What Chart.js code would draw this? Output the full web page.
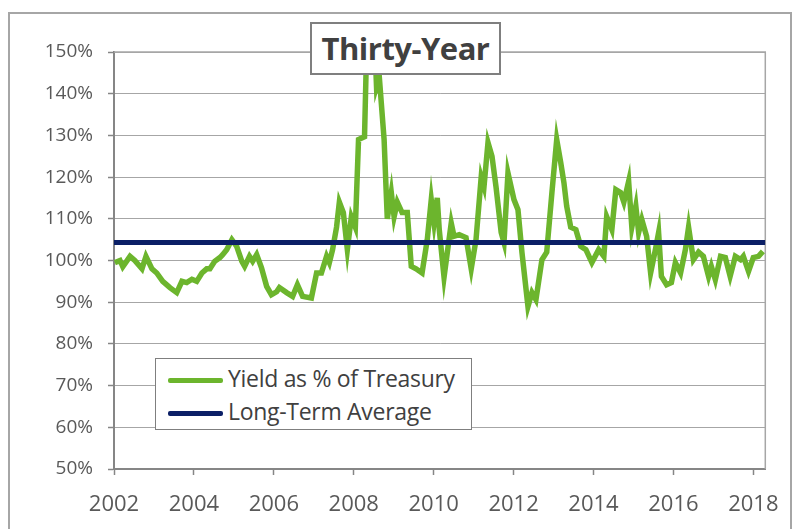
<!DOCTYPE html>
<html>
<head>
<meta charset="utf-8">
<script src="https://cdn.jsdelivr.net/npm/chart.js@4.4.0/dist/chart.umd.min.js"></script>
<style>
    body { margin: 0; background: #fff; }
    .wrap { position: relative; width: 796px; height: 529px; overflow: hidden; }
    .frame { position: absolute; left: 8px; top: 12px; width: 780px; height: 540px; border: 2px solid #a6a6a6; }
    canvas { position: absolute; left: 0; top: 0; }
    .titulo {
        position: absolute; left: 310px; top: 22px; width: 187px; height: 49px;
        border: 2px solid #7f7f7f; background: #fff;
        font: bold 31px "Open Sans", sans-serif; color: #404040;
        text-align: center; line-height: 49px; letter-spacing: -0.5px;
    }
    .legenda {
        position: absolute; left: 155px; top: 358px; width: 315px; height: 70px;
        border: 1.5px solid #7f7f7f; background: #fff;
        font: 23px "Open Sans", sans-serif; color: #404040;
    }
    .item { position: absolute; left: 12px; height: 28px; line-height: 28px; white-space: nowrap; letter-spacing: -0.3px; }
    .item span { display: inline-block; width: 55px; height: 5px; vertical-align: middle; margin-right: 5px; border-radius: 2px; }
</style>
</head>
<body>
<div class="wrap">
    <div class="frame"></div>
    <canvas id="myChart" width="796" height="529"></canvas>
    <div class="titulo">Thirty-Year</div>
    <div class="legenda">
        <div class="item" style="top: 5px"><span style="background:#6cb52d"></span>Yield as % of Treasury</div>
        <div class="item" style="top: 38px"><span style="background:#0b1f66"></span>Long-Term Average</div>
    </div>
</div>
<script>
// data (decimal year, % of treasury)
var years = [2002.02, 2002.15, 2002.22, 2002.40, 2002.52, 2002.70, 2002.80, 2002.95, 2003.07, 2003.22,
    2003.40, 2003.57, 2003.70, 2003.82, 2003.95, 2004.07, 2004.20, 2004.32, 2004.40, 2004.52,
    2004.65, 2004.72, 2004.82, 2004.95, 2005.07, 2005.20, 2005.27, 2005.39, 2005.47, 2005.57,
    2005.69, 2005.82, 2005.94, 2006.07, 2006.14, 2006.32, 2006.47, 2006.59, 2006.72, 2006.94,
    2007.07, 2007.19, 2007.32, 2007.39, 2007.47, 2007.57, 2007.64, 2007.74, 2007.84, 2007.94,
    2008.04, 2008.12, 2008.27, 2008.32, 2008.42, 2008.52, 2008.57, 2008.64, 2008.76, 2008.81,
    2008.84, 2008.94, 2009.01, 2009.09, 2009.21, 2009.34, 2009.44, 2009.56, 2009.71, 2009.84,
    2009.94, 2010.01, 2010.09, 2010.14, 2010.26, 2010.44, 2010.51, 2010.64, 2010.81, 2010.94,
    2011.06, 2011.19, 2011.26, 2011.36, 2011.46, 2011.56, 2011.69, 2011.76, 2011.86, 2012.01,
    2012.11, 2012.21, 2012.36, 2012.46, 2012.56, 2012.71, 2012.83, 2012.96, 2013.08, 2013.18,
    2013.26, 2013.33, 2013.43, 2013.56, 2013.68, 2013.81, 2013.96, 2014.13, 2014.26, 2014.33,
    2014.46, 2014.56, 2014.68, 2014.76, 2014.88, 2014.96, 2015.06, 2015.13, 2015.21, 2015.33,
    2015.43, 2015.55, 2015.63, 2015.70, 2015.83, 2015.95, 2016.05, 2016.18, 2016.30, 2016.38,
    2016.50, 2016.63, 2016.75, 2016.88, 2016.95, 2017.05, 2017.18, 2017.30, 2017.42, 2017.55,
    2017.68, 2017.75, 2017.88, 2018.00, 2018.13, 2018.24];
var yieldPct = [99.5, 100, 98.5, 101, 100, 98, 101, 98, 97, 95,
    93.5, 92.3, 95, 94.7, 95.5, 95, 97, 98, 98, 99.8,
    100.7, 101.4, 102.6, 105, 103.4, 99.8, 98.6, 101, 99.8, 101.4,
    98.3, 93.8, 91.8, 92.5, 93.5, 92.3, 91.4, 94.2, 91.4, 91,
    97, 97, 101, 99.5, 102.6, 108, 114, 111.5, 102.6, 110.5,
    108, 129, 129.7, 150, 158, 154, 141.7, 144, 129, 117,
    110, 116.3, 110.5, 114, 111.5, 111.5, 98.6, 98, 97, 105,
    114.6, 109, 115, 107.4, 96, 109, 105.8, 106.2, 105.5, 98,
    105, 120, 117.7, 128.3, 125, 117.7, 106.7, 104.3, 121, 114.6,
    112.2, 101.9, 89, 92.3, 90.6, 100.2, 102, 116.3, 129, 123.5,
    118.7, 113, 108, 107.4, 103.4, 102.6, 99.5, 102.6, 101, 110.5,
    107.4, 117, 116.3, 114, 119, 108, 113, 106.7, 109.8, 105.8,
    97, 102.6, 106.7, 96.2, 94.2, 94.7, 99.5, 97, 102.6, 108,
    100.2, 102, 101, 96.2, 98.6, 95.4, 101, 100.7, 96.2, 101,
    100.2, 101, 97.4, 100.7, 101, 102.2];
var longTermAvg = 104.3;
var xTicks = [2002, 2004, 2006, 2008, 2010, 2012, 2014, 2016, 2018];
var yTicks = [50, 60, 70, 80, 90, 100, 110, 120, 130, 140, 150];
var xMin = 2002, xMax = 2018.3;

var fonteX = { family: '"Open Sans", sans-serif', size: 22 };
var fonteY = { family: '"Open Sans", sans-serif', size: 19 };

var serie = years.map((ano, i) => ({ x: ano, y: yieldPct[i] }));
var media = [{ x: xMin, y: longTermAvg }, { x: xMax, y: longTermAvg }];

// top and right border of the plot
const moldura = {
    id: 'moldura',
    beforeDatasetsDraw(chart) {
        const a = chart.chartArea;
        const c = chart.ctx;
        c.save();
        c.strokeStyle = '#a6a6a6';
        c.lineWidth = 1.5;
        c.beginPath();
        c.moveTo(a.left, a.top);
        c.lineTo(a.right, a.top);
        c.lineTo(a.right, a.bottom);
        c.stroke();
        c.restore();
    }
};

var ctx = document.getElementById('myChart').getContext('2d');
var chart = new Chart(ctx, {
    type: 'line',
    data: {
        datasets: [
            {
                label: 'Yield as % of Treasury',
                data: serie,
                borderColor: '#6cb52d',
                borderWidth: 5.5,
                pointRadius: 0,
                tension: 0,
                order: 2
            },
            {
                label: 'Long-Term Average',
                data: media,
                borderColor: '#0b1f66',
                borderWidth: 5,
                pointRadius: 0,
                order: 1
            }
        ]
    },
    options: {
        responsive: false,
        animation: false,
        layout: { padding: { left: 0, top: 52, right: 29, bottom: 0 } },
        plugins: { legend: { display: false }, tooltip: { enabled: false } },
        scales: {
            x: {
                type: 'linear',
                min: xMin,
                max: xMax,
                afterBuildTicks: s => { s.ticks = xTicks.map(v => ({ value: v })); },
                afterFit: s => { s.height = 60; },
                ticks: { color: '#595959', font: fonteX, padding: 17, maxRotation: 0, callback: v => String(v) },
                grid: { drawOnChartArea: false, drawTicks: true, tickLength: 6, tickColor: '#868686', tickWidth: 1.5 },
                border: { color: '#868686', width: 2 }
            },
            y: {
                min: 50,
                max: 150,
                afterBuildTicks: s => { s.ticks = yTicks.map(v => ({ value: v })); },
                afterFit: s => { s.width = 114; },
                ticks: { color: '#595959', font: fonteY, padding: 15, callback: v => v + '%' },
                grid: { color: '#a6a6a6', lineWidth: 1, borderDash: [5, 4], tickLength: 6, tickColor: '#868686', tickBorderDash: [], tickWidth: 1.5 },
                border: { color: '#868686', width: 2, dash: [] }
            }
        }
    },
    plugins: [moldura]
});
</script>
</body>
</html>
